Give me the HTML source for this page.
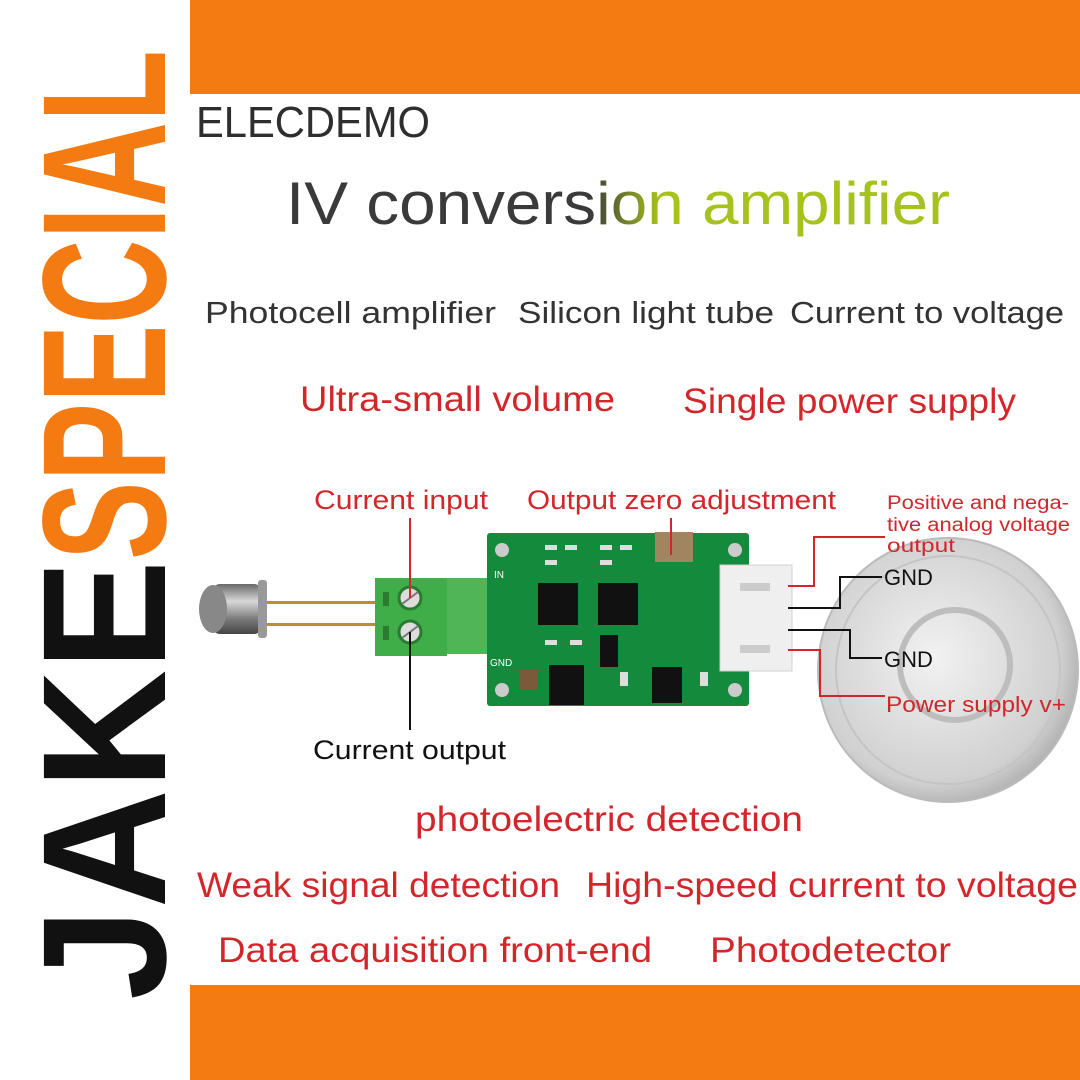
<!DOCTYPE html>
<html><head><meta charset="utf-8"><style>
html,body{margin:0;padding:0;background:#fff}
svg{display:block}
text{font-family:"Liberation Sans",sans-serif}
</style></head><body>
<svg width="1080" height="1080" viewBox="0 0 1080 1080" xmlns="http://www.w3.org/2000/svg">
<defs>
<linearGradient id="tg" gradientUnits="userSpaceOnUse" x1="590" y1="0" x2="660" y2="0">
<stop offset="0" stop-color="#3a3a3a"/><stop offset="1" stop-color="#a6c21c"/></linearGradient>
<radialGradient id="coin" cx="0.45" cy="0.45" r="0.6"><stop offset="0" stop-color="#f2f2f2"/><stop offset="0.8" stop-color="#d0d0d0"/><stop offset="1" stop-color="#a8a8a8"/></radialGradient>
<linearGradient id="tube" x1="0" y1="0" x2="0" y2="1"><stop offset="0" stop-color="#6a6a6a"/><stop offset="0.35" stop-color="#d8d8d8"/><stop offset="0.7" stop-color="#7a7a7a"/><stop offset="1" stop-color="#444"/></linearGradient>
</defs>
<rect width="1080" height="1080" fill="#fff"/>
<rect x="190" y="0" width="890" height="94" fill="#f47a12"/>
<rect x="190" y="985" width="890" height="95" fill="#f47a12"/>

<!-- vertical brand -->
<text transform="translate(165,1000) rotate(-90)" font-size="176" font-weight="bold" textLength="440" lengthAdjust="spacingAndGlyphs" fill="#111">JAKE</text>
<text transform="translate(165,560) rotate(-90)" font-size="176" font-weight="bold" textLength="510" lengthAdjust="spacingAndGlyphs" fill="#f47a12">SPECIAL</text>

<text x="196" y="137" font-size="44" fill="#2e2e2e" textLength="234" lengthAdjust="spacingAndGlyphs">ELECDEMO</text>
<text x="286" y="224" font-size="60" fill="url(#tg)" textLength="664" lengthAdjust="spacingAndGlyphs">IV conversion amplifier</text>

<g font-size="31" fill="#333">
<text x="205" y="323" textLength="291" lengthAdjust="spacingAndGlyphs">Photocell amplifier</text>
<text x="518" y="323" textLength="256" lengthAdjust="spacingAndGlyphs">Silicon light tube</text>
<text x="790" y="323" textLength="274" lengthAdjust="spacingAndGlyphs">Current to voltage</text>
</g>
<g font-size="35" fill="#d3262b">
<text x="300" y="411" textLength="315" lengthAdjust="spacingAndGlyphs">Ultra-small volume</text>
<text x="683" y="413" textLength="333" lengthAdjust="spacingAndGlyphs">Single power supply</text>
<text x="415" y="831" textLength="388" lengthAdjust="spacingAndGlyphs">photoelectric detection</text>
<text x="197" y="897" textLength="363" lengthAdjust="spacingAndGlyphs">Weak signal detection</text>
<text x="586" y="897" textLength="492" lengthAdjust="spacingAndGlyphs">High-speed current to voltage</text>
<text x="218" y="962" textLength="434" lengthAdjust="spacingAndGlyphs">Data acquisition front-end</text>
<text x="710" y="962" textLength="241" lengthAdjust="spacingAndGlyphs">Photodetector</text>
</g>

<!-- coin -->
<ellipse cx="948" cy="670" rx="130" ry="132" fill="url(#coin)" stroke="#bbb" stroke-width="2"/>
<ellipse cx="948" cy="670" rx="112" ry="114" fill="none" stroke="#c4c4c4" stroke-width="2"/>
<circle cx="955" cy="665" r="55" fill="none" stroke="#bdbdbd" stroke-width="6"/>

<!-- photo tube -->
<rect x="262" y="601" width="115" height="3" fill="#b8912e"/>
<rect x="262" y="623" width="115" height="3" fill="#b8912e"/>
<rect x="212" y="584" width="50" height="50" rx="8" fill="url(#tube)"/>
<ellipse cx="213" cy="609" rx="14" ry="24" fill="#888"/>
<rect x="258" y="580" width="9" height="58" rx="3" fill="#999"/>

<!-- terminal block -->
<rect x="375" y="578" width="72" height="78" fill="#3fae48"/>
<rect x="447" y="578" width="44" height="76" fill="#4fb556"/>
<rect x="383" y="592" width="6" height="14" fill="#2a7a30"/>
<rect x="383" y="626" width="6" height="14" fill="#2a7a30"/>
<circle cx="410" cy="598" r="11" fill="#ddd" stroke="#2a7a30" stroke-width="3"/>
<circle cx="410" cy="632" r="11" fill="#ddd" stroke="#2a7a30" stroke-width="3"/>
<line x1="402" y1="604" x2="418" y2="592" stroke="#777" stroke-width="2"/>
<line x1="402" y1="638" x2="418" y2="626" stroke="#777" stroke-width="2"/>

<!-- board -->
<rect x="487" y="533" width="262" height="173" rx="3" fill="#138a3c"/>
<rect x="491" y="578" width="0" height="0"/>
<circle cx="502" cy="550" r="7" fill="#ccc"/><circle cx="502" cy="690" r="7" fill="#ccc"/>
<circle cx="735" cy="550" r="7" fill="#ccc"/><circle cx="735" cy="690" r="7" fill="#ccc"/>
<rect x="538" y="583" width="40" height="42" fill="#111"/>
<rect x="598" y="583" width="40" height="42" fill="#111"/>
<rect x="549" y="665" width="35" height="40" fill="#111"/>
<rect x="652" y="667" width="30" height="36" fill="#111"/>
<rect x="600" y="635" width="18" height="32" fill="#111"/>
<rect x="655" y="532" width="38" height="30" fill="#a08560"/>
<rect x="520" y="670" width="18" height="20" fill="#7b5a3a"/>
<g fill="#ddd"><rect x="545" y="545" width="12" height="5"/><rect x="565" y="545" width="12" height="5"/><rect x="600" y="545" width="12" height="5"/><rect x="620" y="545" width="12" height="5"/><rect x="545" y="560" width="12" height="5"/><rect x="600" y="560" width="12" height="5"/><rect x="545" y="640" width="12" height="5"/><rect x="570" y="640" width="12" height="5"/><rect x="700" y="672" width="8" height="14"/><rect x="620" y="672" width="8" height="14"/></g>
<text x="490" y="666" font-size="10" fill="#fff" font-family="Liberation Serif">GND</text>
<text x="494" y="578" font-size="10" fill="#fff" font-family="Liberation Serif">IN</text>
<!-- connector -->
<rect x="720" y="565" width="72" height="106" fill="#efefef" stroke="#d0d0d0"/>
<rect x="740" y="583" width="30" height="8" fill="#ccc"/>
<rect x="740" y="645" width="30" height="8" fill="#ccc"/>

<!-- leader lines -->
<g fill="none" stroke-width="2">
<polyline points="410,518 410,598" stroke="#d3262b"/>
<polyline points="410,632 410,730" stroke="#111"/>
<polyline points="671,518 671,555" stroke="#d3262b"/>
<polyline points="788,586 814,586 814,537 885,537" stroke="#d3262b"/>
<polyline points="788,608 840,608 840,577 882,577" stroke="#111"/>
<polyline points="788,630 850,630 850,658 882,658" stroke="#111"/>
<polyline points="788,650 820,650 820,696 885,696" stroke="#d3262b"/>
</g>

<g font-size="27" fill="#d3262b">
<text x="314" y="509" textLength="174" lengthAdjust="spacingAndGlyphs">Current input</text>
<text x="527" y="509" textLength="309" lengthAdjust="spacingAndGlyphs">Output zero adjustment</text>
</g>
<text x="313" y="759" font-size="27" fill="#111" textLength="193" lengthAdjust="spacingAndGlyphs">Current output</text>
<g font-size="19" fill="#d3262b">
<text x="887" y="509" textLength="182" lengthAdjust="spacingAndGlyphs">Positive and nega-</text>
<text x="887" y="531" textLength="183" lengthAdjust="spacingAndGlyphs">tive analog voltage</text>
<text x="887" y="552" textLength="68" lengthAdjust="spacingAndGlyphs">output</text>
</g>
<text x="884" y="585" font-size="22" fill="#111">GND</text>
<text x="884" y="667" font-size="22" fill="#111">GND</text>
<text x="886" y="712" font-size="22" fill="#d3262b" textLength="180" lengthAdjust="spacingAndGlyphs">Power supply v+</text>
</svg>
</body></html>
